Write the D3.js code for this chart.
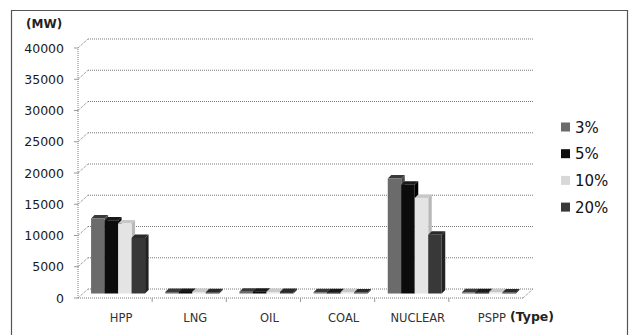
<!DOCTYPE html>
<html>
<head>
<meta charset="utf-8">
<script src="https://cdn.jsdelivr.net/npm/d3@7"></script>
<style>
  html, body { margin: 0; padding: 0; background: #fff; }
  svg { display: block; }
</style>
</head>
<body>
<svg id="chart" width="629" height="335"></svg>
<script>
// Installed capacity by plant type under each scenario (MW)
const categories = ["HPP", "LNG", "OIL", "COAL", "NUCLEAR", "PSPP"];
const seriesNames = ["3%", "5%", "10%", "20%"];
const values3 = [12000, 250, 300, 200, 18400, 200];
const values5 = [11700, 250, 300, 200, 17400, 200];
const values10 = [11200, 250, 250, 200, 15300, 200];
const values20 = [8900, 200, 250, 150, 9400, 150];
const yTicks = [0, 5000, 10000, 15000, 20000, 25000, 30000, 35000, 40000];

const seriesValues = [values3, values5, values10, values20];
const frontColors = ["#6b6b6b", "#0c0c0c", "#e4e4e4", "#383838"];
const sideColors = ["#4a4a4a", "#000000", "#b8b8b8", "#222222"];
const topColors = ["#3a3a3a", "#1a1a1a", "#c8c8c8", "#2a2a2a"];

const svg = d3.select("#chart");

// outer frame
svg.append("path")
  .attr("d", "M11.5,335 V10.5 H627.5 V335")
  .attr("fill", "none").attr("stroke", "#555").attr("stroke-width", 1.2);

// 3D geometry: front floor edge and wall depth
const x0 = 78, x1 = 523;
const depth = { dx: 10, dy: -9 };
const y = d3.scaleLinear().domain([0, 40000]).range([298, 48]);
const x = d3.scaleBand().domain(categories).range([x0, x1]);

const grid = svg.append("g")
  .attr("fill", "none").attr("stroke", "#7a7a7a")
  .attr("stroke-width", 1).attr("stroke-dasharray", "1,1");

// back wall gridlines and side-wall diagonals
yTicks.forEach(t => {
  const yf = y(t);
  grid.append("line")
    .attr("x1", x0 + depth.dx).attr("x2", x1 + depth.dx)
    .attr("y1", yf + depth.dy).attr("y2", yf + depth.dy);
  grid.append("line")
    .attr("x1", x0).attr("y1", yf)
    .attr("x2", x0 + depth.dx).attr("y2", yf + depth.dy);
});
// left wall front edge
grid.append("line").attr("x1", x0).attr("x2", x0).attr("y1", y(0)).attr("y2", y(40000));
// floor front edge and right edge
grid.append("line").attr("x1", x0).attr("x2", x1).attr("y1", y(0)).attr("y2", y(0));
grid.append("line").attr("x1", x1).attr("y1", y(0))
  .attr("x2", x1 + depth.dx).attr("y2", y(0) + depth.dy);

// value axis tick marks
svg.append("g").attr("stroke", "#999").selectAll("line")
  .data(yTicks).join("line")
  .attr("x1", x0 - 4).attr("x2", x0)
  .attr("y1", d => y(d)).attr("y2", d => y(d));

// category tick marks under the floor
svg.append("g").attr("stroke", "#999").selectAll("line")
  .data(categories.slice(1)).join("line")
  .attr("x1", d => x(d)).attr("x2", d => x(d))
  .attr("y1", y(0)).attr("y2", y(0) + 4);

// value axis labels
svg.append("g")
  .attr("font-family", "DejaVu Sans, Verdana, sans-serif")
  .attr("font-size", 12.5).attr("fill", "#1a1a1a").attr("text-anchor", "end")
  .selectAll("text").data(yTicks).join("text")
  .attr("x", 64).attr("y", d => y(d) + 4.5)
  .text(d => d);

svg.append("text")
  .attr("x", 26).attr("y", 28)
  .attr("font-family", "DejaVu Sans, Verdana, sans-serif")
  .attr("font-size", 12).attr("font-weight", "bold").attr("fill", "#222")
  .text("(MW)");

// bars sit halfway into the floor depth
const mid = { dx: depth.dx / 2, dy: depth.dy / 2 };
const bd = 3.5; // bar depth
const inner = d3.scaleBand().domain(seriesNames.map((_, i) => i)).range([0, 54]);
const barW = inner.bandwidth();

const bars = svg.append("g");
categories.forEach((c, ci) => {
  const gx = x(c) + x.bandwidth() / 2 + mid.dx - 2 - 27;
  seriesValues.forEach((vals, si) => {
    const v = vals[ci];
    const bx = gx + inner(si);
    const yt = y(v) + mid.dy;
    const yb = y(0) + mid.dy;
    const g = bars.append("g");
    g.append("polygon")
      .attr("points", [[bx + barW, yt], [bx + barW + bd, yt - bd], [bx + barW + bd, yb - bd], [bx + barW, yb]].join(" "))
      .attr("fill", sideColors[si]);
    g.append("polygon")
      .attr("points", [[bx, yt], [bx + bd, yt - bd], [bx + barW + bd, yt - bd], [bx + barW, yt]].join(" "))
      .attr("fill", topColors[si]);
    g.append("rect")
      .attr("x", bx).attr("y", yt)
      .attr("width", barW).attr("height", Math.max(0, yb - yt))
      .attr("fill", frontColors[si]);
  });
});

// category labels
svg.append("g")
  .attr("font-family", "DejaVu Sans, Verdana, sans-serif")
  .attr("font-size", 11.5).attr("fill", "#333").attr("text-anchor", "middle")
  .selectAll("text").data(categories).join("text")
  .attr("x", d => x(d) + x.bandwidth() / 2 + 6).attr("y", 322)
  .text(d => d);

svg.append("text")
  .attr("x", 510).attr("y", 321)
  .attr("font-family", "DejaVu Sans, Verdana, sans-serif")
  .attr("font-size", 12.5).attr("font-weight", "bold").attr("fill", "#222")
  .text("(Type)");

// legend
const legend = svg.append("g")
  .selectAll("g").data(seriesNames).join("g")
  .attr("transform", (d, i) => `translate(561, ${127 + i * 26.7})`);
legend.append("rect")
  .attr("x", 0).attr("y", -4.5).attr("width", 9).attr("height", 9)
  .attr("fill", (d, i) => frontColors[i] === "#e4e4e4" ? "#d8d8d8" : frontColors[i]);
legend.append("text")
  .attr("x", 14).attr("y", 5.5)
  .attr("font-family", "DejaVu Sans, Verdana, sans-serif")
  .attr("font-size", 15).attr("fill", "#111")
  .text(d => d);
</script>
</body>
</html>
